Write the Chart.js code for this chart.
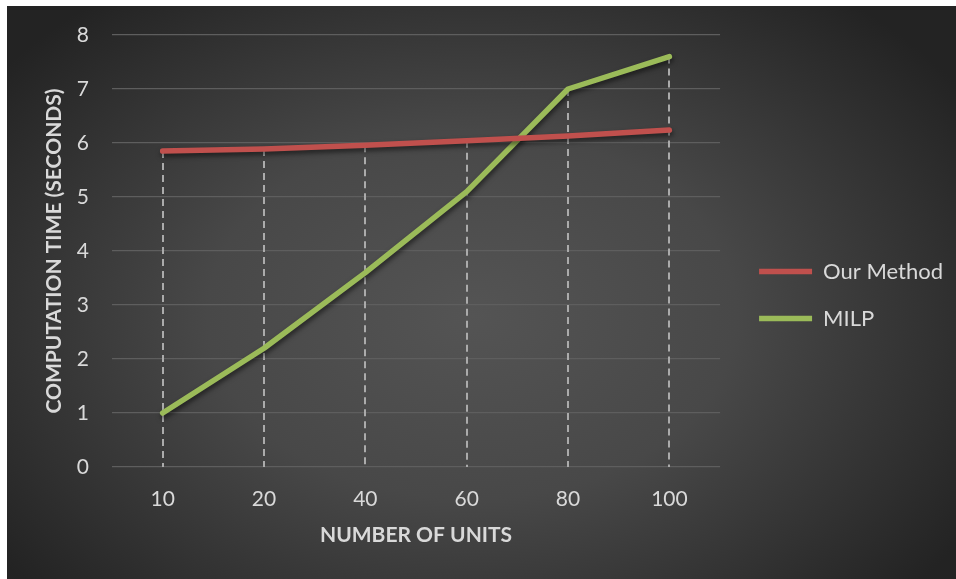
<!DOCTYPE html>
<html>
<head>
<meta charset="utf-8">
<title>Computation time vs number of units</title>
<script src="https://cdn.jsdelivr.net/npm/chart.js@4.4.1/dist/chart.umd.min.js"></script>
<style>
  html, body { margin: 0; padding: 0; background: #ffffff; overflow: hidden; }
  #wrap { position: absolute; left: 7px; top: 6px; width: 949px; height: 573px; }
</style>
</head>
<body>
<div id="wrap"><canvas id="chart"></canvas></div>
<script>
// Category labels on the x axis (number of units)
const unitCounts = ['10', '20', '40', '60', '80', '100'];
// Computation time in seconds for each approach
const ourMethodTimes = [5.85, 5.89, 5.96, 6.04, 6.13, 6.24];
const milpTimes = [1.0, 2.2, 3.6, 5.1, 7.0, 7.6];
// Value axis range
const yMin = 0;
const yMax = 8;
const yStep = 1;

const TEXT = '#d9d9d9';
const GRID = '#5e5e5e';

// Dark radial backdrop behind the whole chart
const backdrop = {
  id: 'backdrop',
  beforeDraw(chart) {
    const { ctx, width, height } = chart;
    const cx = width * 0.49, cy = height * 0.54;
    const sy = height / width;
    ctx.save();
    ctx.translate(cx, cy);
    ctx.scale(1, sy * 1.15);
    const r = width * 0.62;
    const g = ctx.createRadialGradient(0, 0, 0, 0, 0, r);
    g.addColorStop(0, '#545454');
    g.addColorStop(0.45, '#484848');
    g.addColorStop(1, '#232323');
    ctx.fillStyle = g;
    ctx.fillRect(-cx - 5, -cy / (sy * 1.15) - 5, width + 10, height / (sy * 1.15) + 10);
    ctx.restore();
  }
};

// Dashed drop lines from the highest series value at each category down to the axis
const dropLines = {
  id: 'dropLines',
  beforeDatasetsDraw(chart) {
    const { ctx, scales: { x, y } } = chart;
    const sets = chart.data.datasets;
    ctx.save();
    ctx.strokeStyle = '#ababab';
    ctx.lineWidth = 2;
    ctx.setLineDash([7, 5]);
    chart.data.labels.forEach((_, i) => {
      const top = Math.max(...sets.map(d => d.data[i]));
      const px = Math.round(x.getPixelForValue(i));
      ctx.beginPath();
      ctx.moveTo(px, y.getPixelForValue(top));
      ctx.lineTo(px, y.getPixelForValue(yMin));
      ctx.stroke();
    });
    ctx.restore();
  }
};

// Soft drop shadow under each series line
const lineShadow = {
  id: 'lineShadow',
  beforeDatasetDraw(chart) {
    const ctx = chart.ctx;
    ctx.save();
    ctx.shadowColor = 'rgba(0,0,0,0.55)';
    ctx.shadowBlur = 5;
    ctx.shadowOffsetX = 1;
    ctx.shadowOffsetY = 3;
  },
  afterDatasetDraw(chart) {
    chart.ctx.restore();
  }
};

// Nudge the legend block inward from the plot edge
const legendOffset = {
  id: 'legendOffset',
  afterLayout(chart) {
    const lg = chart.legend;
    if (!lg) return;
    lg.left += 14; lg.right += 14;
    lg.top += 3; lg.bottom += 3;
  }
};

function draw() {
  new Chart(document.getElementById('chart'), {
    type: 'line',
    data: {
      labels: unitCounts,
      datasets: [
        {
          label: 'Our Method',
          data: ourMethodTimes,
          borderColor: '#c0504d',
          backgroundColor: '#c0504d',
          borderWidth: 5.5,
          borderCapStyle: 'round',
          borderJoinStyle: 'round',
          pointRadius: 0,
          tension: 0
        },
        {
          label: 'MILP',
          data: milpTimes,
          borderColor: '#9bbb59',
          backgroundColor: '#9bbb59',
          borderWidth: 5.5,
          borderCapStyle: 'round',
          borderJoinStyle: 'round',
          pointRadius: 0,
          tension: 0
        }
      ]
    },
    options: {
      responsive: true,
      maintainAspectRatio: false,
      animation: false,
      devicePixelRatio: 1,
      layout: { padding: { top: 29, left: 0, right: 17, bottom: 30 } },
      plugins: {
        tooltip: { enabled: false },
        legend: {
          position: 'right',
          align: 'center',
          labels: {
            usePointStyle: true,
            pointStyle: 'line',
            pointStyleWidth: 53,
            color: TEXT,
            font: { family: 'Lato', size: 22 },
            padding: 25
          }
        }
      },
      scales: {
        x: {
          offset: true,
          grid: { display: false },
          border: { display: false },
          ticks: {
            color: TEXT,
            font: { family: 'Lato', size: 21 },
            padding: 12,
            maxRotation: 0
          },
          title: {
            display: true,
            text: 'NUMBER OF UNITS',
            color: TEXT,
            font: { family: 'Lato', size: 21, weight: 'bold' },
            padding: { top: 0, bottom: 1.4 }
          },
          afterFit(s) { s.height = 82; }
        },
        y: {
          min: yMin,
          max: yMax,
          grid: { color: GRID, lineWidth: 1.3, drawTicks: false },
          border: { display: false },
          ticks: {
            stepSize: yStep,
            color: TEXT,
            font: { family: 'Lato', size: 21 },
            padding: 23
          },
          title: {
            display: true,
            text: 'COMPUTATION TIME (SECONDS)',
            color: TEXT,
            font: { family: 'Lato', size: 21, weight: 'bold' },
            padding: { top: 34.4, bottom: 0 }
          },
          afterFit(s) {
            s.width = 105;
            s.paddingTop = 0;
            s.paddingBottom = 0;
          }
        }
      }
    },
    plugins: [backdrop, dropLines, lineShadow, legendOffset]
  });
}

Promise.all([
  document.fonts.load('21px Lato'),
  document.fonts.load('bold 21px Lato')
]).then(draw, draw);
</script>
</body>
</html>
